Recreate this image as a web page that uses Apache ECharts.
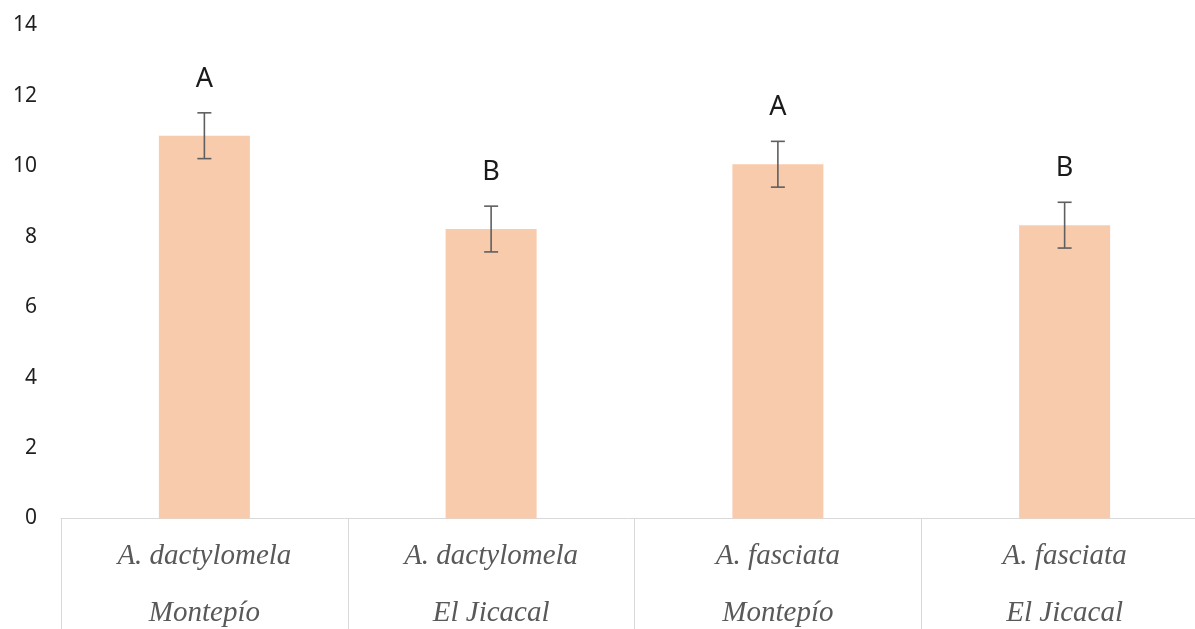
<!DOCTYPE html>
<html>
<head>
<meta charset="utf-8">
<script src="https://cdn.jsdelivr.net/npm/echarts@6/dist/echarts.min.js"></script>
<style>
html,body{margin:0;padding:0;background:#fff;}
#chart{width:1195px;height:629px;}
</style>
</head>
<body>
<div id="chart"></div>
<script>
const categories = ['A. dactylomela\nMontepío', 'A. dactylomela\nEl Jicacal', 'A. fasciata\nMontepío', 'A. fasciata\nEl Jicacal'];
const means = [10.87, 8.22, 10.06, 8.33];
const errors = [0.65, 0.65, 0.65, 0.65];
const letters = ['A', 'B', 'A', 'B'];
const yMin = 0, yMax = 14, yStep = 2;

const errData = means.map((m, i) => [i, m - errors[i], m + errors[i], letters[i]]);

const chart = echarts.init(document.getElementById('chart'), null, {renderer: 'canvas'});
chart.setOption({
  animation: false,
  backgroundColor: '#ffffff',
  grid: {left: 61, top: 25.5, width: 1147, height: 493, containLabel: false, outerBoundsMode: 'none'},
  xAxis: {
    type: 'category',
    data: categories,
    boundaryGap: true,
    axisLine: {show: true, lineStyle: {color: '#d9d9d9', width: 1}},
    axisTick: {show: true, alignWithLabel: false, interval: 0, length: 115, lineStyle: {color: '#d9d9d9', width: 1}},
    axisLabel: {
      interval: 0, margin: 9,
      fontFamily: 'Liberation Serif', fontStyle: 'italic', fontSize: 29,
      color: '#595959', lineHeight: 57
    },
    splitLine: {show: false}
  },
  yAxis: {
    type: 'value',
    min: yMin, max: yMax, interval: yStep,
    axisLine: {show: false},
    axisTick: {show: false},
    splitLine: {show: false},
    axisLabel: {margin: 24, fontFamily: 'Noto Sans', fontSize: 21, color: '#1f1f1f'}
  },
  series: [
    {
      type: 'bar',
      data: means,
      barWidth: 91,
      itemStyle: {color: '#F8CBAD'}
    },
    {
      type: 'custom',
      data: errData,
      encode: {x: 0, y: [1, 2]},
      clip: false,
      z: 10,
      renderItem: function (params, api) {
        const x = api.coord([api.value(0), 0])[0];
        const lo = api.coord([api.value(0), api.value(1)])[1];
        const hi = api.coord([api.value(0), api.value(2)])[1];
        const cap = 7;
        const st = {stroke: '#5f5f5f', lineWidth: 1.6};
        return {
          type: 'group',
          children: [
            {type: 'line', shape: {x1: x, y1: hi, x2: x, y2: lo}, style: st},
            {type: 'line', shape: {x1: x - cap, y1: hi, x2: x + cap, y2: hi}, style: st},
            {type: 'line', shape: {x1: x - cap, y1: lo, x2: x + cap, y2: lo}, style: st},
            {type: 'text', style: {
              text: letters[params.dataIndex], x: x, y: hi - 34,
              align: 'center', verticalAlign: 'middle',
              fontFamily: 'Noto Sans', fontSize: 27, fill: '#1a1a1a'
            }}
          ]
        };
      }
    }
  ]
});
</script>
</body>
</html>
